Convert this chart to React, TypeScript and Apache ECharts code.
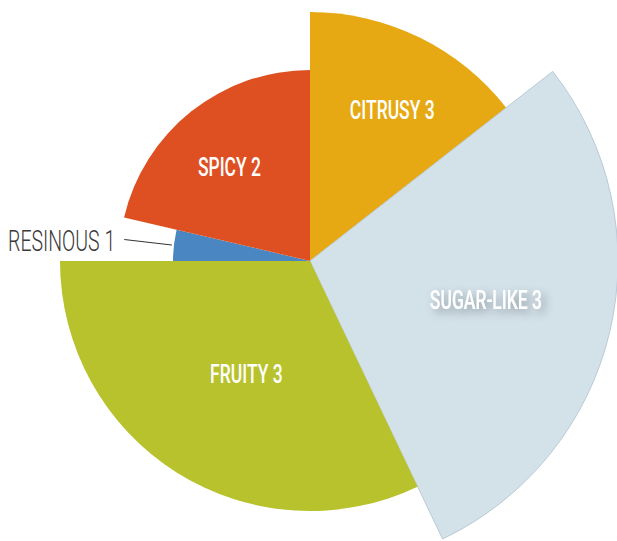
import React, { useEffect, useRef } from "react";
import * as echarts from "echarts";

const categories = ["CITRUSY", "SUGAR-LIKE", "FRUITY", "RESINOUS", "SPICY"];
const scores = [3, 3, 3, 1, 2];
// angular span of each slice, degrees, clockwise from 12 o'clock
const angleSpans = [52, 102.5, 115.5, 13.2, 76.8];
// slice radius (same unit as radius axis)
const radii = [249, 308, 250, 137, 191];

const colors = ["#E6A914", "#D3E1E9", "#B8C22C", "#4A86C1", "#DE5021"];
// label placement: [angle (deg cw from top), fraction of radius]
const labelPlace: Array<[number, number] | null> = [
  [28.6, 0.69],
  [102.5, 0.585],
  [209.3, 0.52],
  null,
  [319.4, 0.648],
];

export default function App() {
  const ref = useRef<HTMLDivElement>(null);
  useEffect(() => {
    document.body.style.margin = "0";
    const chart = echarts.init(ref.current!, undefined, { renderer: "svg" });
    let acc = 0;
    const data = categories.map((c, i) => {
      const s = acc;
      acc += angleSpans[i];
      return { name: c, value: [s, acc, radii[i], scores[i], i] };
    });
    chart.setOption({
      animation: false,
      backgroundColor: "#ffffff",
      polar: { center: [310, 261], radius: 308 },
      angleAxis: {
        type: "value",
        min: 0,
        max: 360,
        startAngle: 90,
        clockwise: true,
        show: false,
      },
      radiusAxis: { type: "value", min: 0, max: 308, show: false },
      series: [
        {
          type: "custom",
          coordinateSystem: "polar",
          data,
          renderItem: (params: any, api: any) => {
            const cs = params.coordSys;
            const cx = cs.cx;
            const cy = cs.cy;
            const a0 = api.value(0);
            const a1 = api.value(1);
            const r = api.value(2);
            const score = api.value(3);
            const idx = api.value(4);
            const p0 = api.coord([r, a0]);
            const p1 = api.coord([r, a1]);
            const rPx = Math.hypot(p0[0] - cx, p0[1] - cy);
            const s = Math.atan2(p0[1] - cy, p0[0] - cx);
            let e = Math.atan2(p1[1] - cy, p1[0] - cx);
            if (e <= s) e += Math.PI * 2;
            const children: any[] = [
              {
                type: "sector",
                shape: { cx, cy, r0: 0, r: rPx, startAngle: s, endAngle: e, clockwise: true },
                style: {
                  fill: colors[idx],
                  stroke: idx === 1 ? "#B9CAD5" : null,
                  lineWidth: idx === 1 ? 1 : 0,
                },
              },
            ];
            const label = categories[idx] + " " + score;
            const lp = labelPlace[idx];
            if (lp) {
              const pt = api.coord([r * lp[1], lp[0]]);
              children.push({
                type: "text",
                x: pt[0],
                y: pt[1],
                scaleX: 0.7,
                style: {
                  text: label,
                  fill: "#ffffff",
                  fontFamily: "Roboto",
                  fontWeight: 500,
                  fontSize: 25,
                  align: "center",
                  verticalAlign: "middle",
                  textShadowColor: idx === 1 ? "rgba(0,0,0,0.35)" : "transparent",
                  textShadowBlur: idx === 1 ? 10 : 0,
                  textShadowOffsetX: idx === 1 ? 4 : 0,
                  textShadowOffsetY: idx === 1 ? 4 : 0,
                },
              });
            } else {
              const mid = (a0 + a1) / 2;
              const q0 = api.coord([r + 2, mid]);
              const q1 = api.coord([r + 50, mid]);
              children.push({
                type: "line",
                shape: { x1: q0[0], y1: q0[1], x2: q1[0], y2: q1[1] },
                style: { stroke: "#333333", lineWidth: 1 },
              });
              children.push({
                type: "text",
                x: q1[0] - 9,
                y: q1[1] + 1,
                scaleX: 0.65,
                style: {
                  text: label,
                  fill: "#3a3a3a",
                  fontFamily: "Roboto",
                  fontWeight: 300,
                  fontSize: 30,
                  align: "right",
                  verticalAlign: "middle",
                },
              });
            }
            return { type: "group", children };
          },
        },
      ],
    });
    return () => chart.dispose();
  }, []);
  return <div ref={ref} style={{ width: 617, height: 541 }} />;
}
